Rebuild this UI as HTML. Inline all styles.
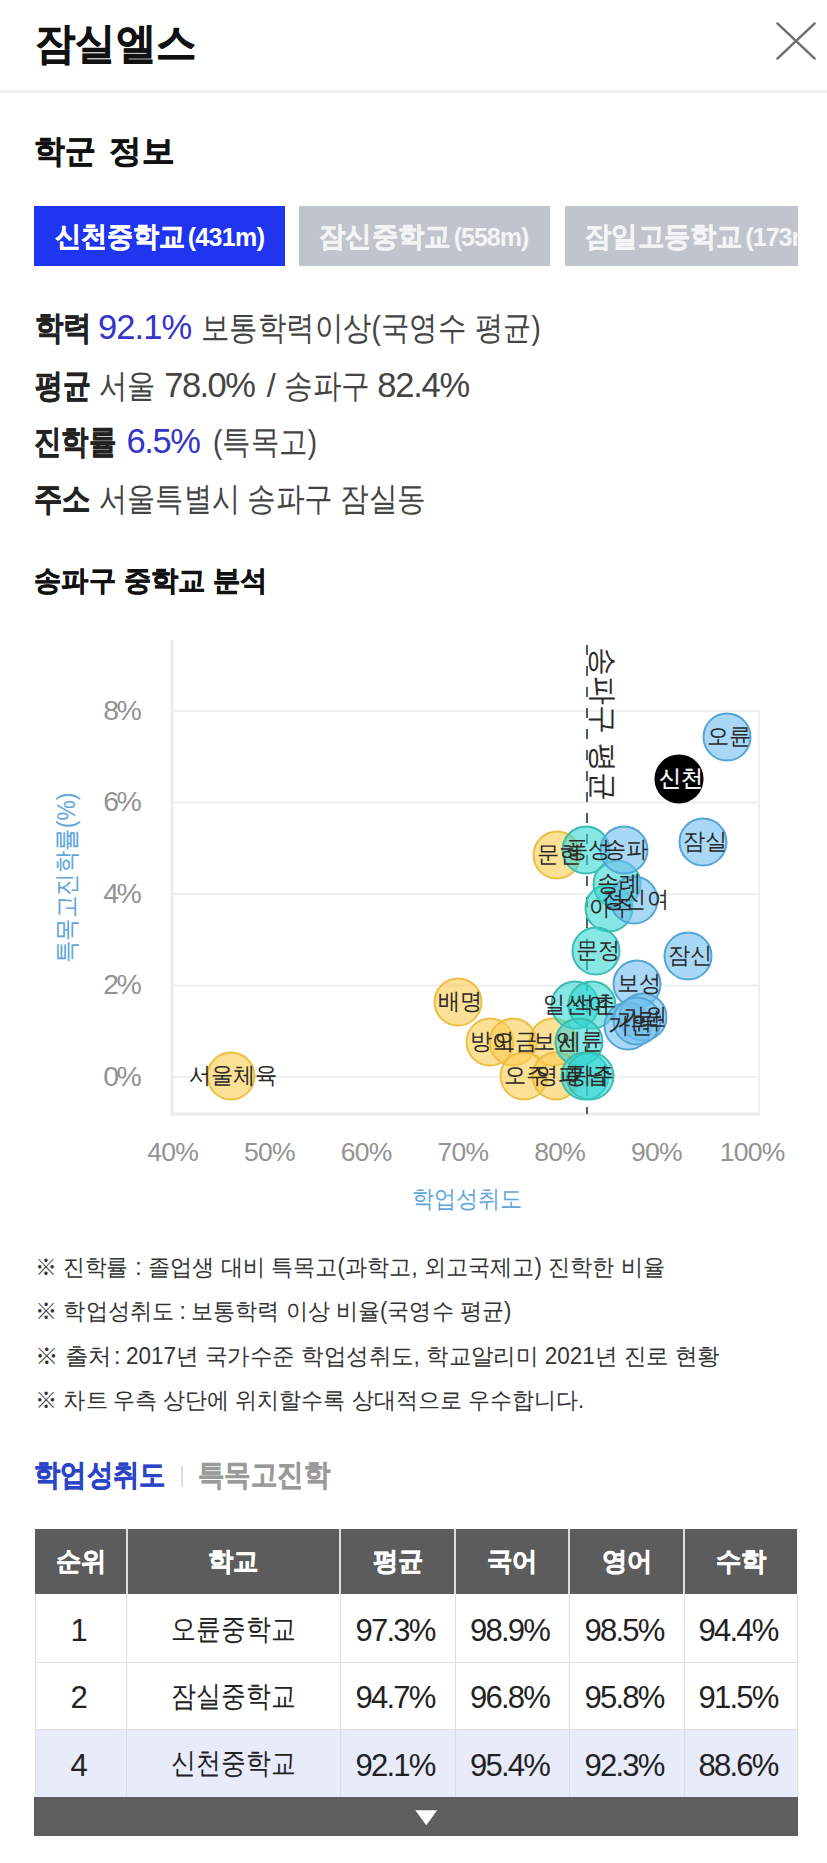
<!DOCTYPE html>
<html><head><meta charset="utf-8"><style>
*{margin:0;padding:0;box-sizing:border-box}
html,body{width:827px;height:1863px;overflow:hidden;background:#fff}
body{font-family:"Liberation Sans",sans-serif;color:#222;position:relative}
.a{position:absolute;white-space:nowrap}
</style></head><body>
<div id="title" class="a" style="left:34.64px;top:16.00px;line-height:54px;font-weight:bold;color:#111"><span id="title_0" style="font-size:42.91px;letter-spacing:0.00px;margin-left:0.00px;;display:inline-block;transform:scaleX(0.9396);transform-origin:0 50%;-webkit-text-stroke:0.5px currentColor;">잠실엘스</span></div>
<svg class="a" style="left:770px;top:16px" width="52" height="50" viewBox="0 0 52 50"><path d="M7.4 7.4L44.7 42.6M44.7 7.4L7.4 42.6" stroke="#6e6e6e" stroke-width="2.4" stroke-linecap="round"/></svg>
<div class="a" style="left:0;top:89.5px;width:827px;height:3px;background:#f0f0f0"></div>
<div id="h2" class="a" style="left:34.32px;top:129.20px;line-height:44px;font-weight:bold;color:#111"><span id="h2_0" style="font-size:31.65px;letter-spacing:0.00px;margin-left:0.00px;;display:inline-block;transform:scaleX(0.9643);transform-origin:0 50%;-webkit-text-stroke:0.5px currentColor;">학군</span><span id="h2_1" style="font-size:31.65px;letter-spacing:0.00px;margin-left:10.73px;;display:inline-block;transform:scaleX(1.0192);transform-origin:0 50%;-webkit-text-stroke:0.5px currentColor;">정보</span></div>
<div class="a" style="left:34px;top:206px;width:250.5px;height:60px;background:#2035ef"></div>
<div class="a" style="left:299px;top:206px;width:250.5px;height:60px;background:#c0c4cd"></div>
<div class="a" style="left:565px;top:206px;width:233px;height:60px;background:#c0c4cd"></div>
<div id="t1" class="a" style="left:54.68px;top:217.40px;line-height:40px;font-weight:bold;color:#fff"><span id="t1_0" style="font-size:27.79px;letter-spacing:0.00px;margin-left:0.00px;;display:inline-block;transform:scaleX(0.9321);transform-origin:0 50%;-webkit-text-stroke:0.5px currentColor;">신천중학교</span><span id="t1_1" style="font-size:25.00px;letter-spacing:-0.66px;margin-left:-7.01px;;">(431m)</span></div>
<div id="t2" class="a" style="left:318.68px;top:217.40px;line-height:40px;font-weight:bold;color:#f3f4f6"><span id="t2_0" style="font-size:28.00px;letter-spacing:0.00px;margin-left:0.00px;;display:inline-block;transform:scaleX(0.9404);transform-origin:0 50%;-webkit-text-stroke:0.5px currentColor;">잠신중학교</span><span id="t2_1" style="font-size:25.00px;letter-spacing:-0.98px;margin-left:-5.01px;;">(558m)</span></div>
<div class="a" style="left:0;top:0;width:798px;height:300px;overflow:hidden"><div id="t3" class="a" style="left:584.68px;top:217.40px;line-height:40px;font-weight:bold;color:#f3f4f6"><span id="t3_0" style="font-size:28.00px;letter-spacing:0.00px;margin-left:0.00px;;display:inline-block;transform:scaleX(0.9385);transform-origin:0 50%;-webkit-text-stroke:0.5px currentColor;">잠일고등학교</span><span id="t3_1" style="font-size:25.00px;letter-spacing:-1.00px;margin-left:-7.25px;;">(173m)</span></div></div>
<div id="r1" class="a" style="left:34.68px;top:307.00px;line-height:40px;color:#444"><span id="r1_0" style="font-size:32.50px;letter-spacing:0.00px;margin-left:0.00px;font-weight:bold;color:#222;display:inline-block;transform:scaleX(0.8621);transform-origin:0 50%;-webkit-text-stroke:0.5px currentColor;">학력</span><span id="r1_1" style="font-size:34.50px;letter-spacing:-0.90px;margin-left:-2.77px;color:#3535c8;">92.1%</span><span id="r1_2" style="font-size:32.50px;letter-spacing:0.00px;margin-left:9.93px;;display:inline-block;transform:scaleX(0.8615);transform-origin:0 50%;">보통학력이상(국영수</span><span id="r1_3" style="font-size:32.50px;letter-spacing:0.00px;margin-left:-34.29px;;display:inline-block;transform:scaleX(0.8549);transform-origin:0 50%;">평균)</span></div>
<div id="r2" class="a" style="left:35.00px;top:364.60px;line-height:40px;color:#444"><span id="r2_0" style="font-size:32.50px;letter-spacing:0.00px;margin-left:0.00px;font-weight:bold;color:#222;display:inline-block;transform:scaleX(0.8456);transform-origin:0 50%;-webkit-text-stroke:0.5px currentColor;">평균</span><span id="r2_1" style="font-size:32.50px;letter-spacing:0.00px;margin-left:-2.32px;;display:inline-block;transform:scaleX(0.8592);transform-origin:0 50%;">서울</span><span id="r2_2" style="font-size:34.50px;letter-spacing:-1.55px;margin-left:-0.45px;;">78.0%</span><span id="r2_3" style="font-size:32.50px;letter-spacing:0.00px;margin-left:12.49px;;">/</span><span id="r2_4" style="font-size:32.50px;letter-spacing:0.00px;margin-left:7.74px;;display:inline-block;transform:scaleX(0.8712);transform-origin:0 50%;">송파구</span><span id="r2_5" style="font-size:34.50px;letter-spacing:-1.25px;margin-left:-5.27px;;">82.4%</span></div>
<div id="r3" class="a" style="left:34.00px;top:421.20px;line-height:40px;color:#444"><span id="r3_0" style="font-size:32.50px;letter-spacing:0.00px;margin-left:0.00px;font-weight:bold;color:#222;display:inline-block;transform:scaleX(0.8313);transform-origin:0 50%;-webkit-text-stroke:0.5px currentColor;">진학률</span><span id="r3_1" style="font-size:34.50px;letter-spacing:-1.37px;margin-left:-6.64px;color:#3535c8;">6.5%</span><span id="r3_2" style="font-size:32.50px;letter-spacing:0.00px;margin-left:13.17px;;display:inline-block;transform:scaleX(0.8627);transform-origin:0 50%;">(특목고)</span></div>
<div id="r4" class="a" style="left:34.00px;top:479.20px;line-height:40px;color:#444"><span id="r4_0" style="font-size:32.50px;letter-spacing:0.00px;margin-left:0.00px;font-weight:bold;color:#222;display:inline-block;transform:scaleX(0.8591);transform-origin:0 50%;-webkit-text-stroke:0.5px currentColor;">주소</span><span id="r4_1" style="font-size:32.50px;letter-spacing:0.00px;margin-left:-1.40px;;display:inline-block;transform:scaleX(0.8537);transform-origin:0 50%;">서울특별시</span><span id="r4_2" style="font-size:32.50px;letter-spacing:0.00px;margin-left:-17.00px;;display:inline-block;transform:scaleX(0.8687);transform-origin:0 50%;">송파구</span><span id="r4_3" style="font-size:32.50px;letter-spacing:0.00px;margin-left:-5.92px;;display:inline-block;transform:scaleX(0.8687);transform-origin:0 50%;">잠실동</span></div>
<div id="h3" class="a" style="left:34.32px;top:559.80px;line-height:40px;font-weight:bold;color:#111"><span id="h3_0" style="font-size:28.40px;letter-spacing:0.00px;margin-left:0.00px;;display:inline-block;transform:scaleX(0.9749);transform-origin:0 50%;-webkit-text-stroke:0.5px currentColor;">송파구 중학교 분석</span></div>
<svg class="a" style="left:0;top:600px" width="827" height="620" viewBox="0 600 827 620"><line x1="172" y1="711" x2="759" y2="711" stroke="#f0f0f0" stroke-width="2"/>
<line x1="172" y1="802.5" x2="759" y2="802.5" stroke="#f0f0f0" stroke-width="2"/>
<line x1="172" y1="894" x2="759" y2="894" stroke="#f0f0f0" stroke-width="2"/>
<line x1="172" y1="985.5" x2="759" y2="985.5" stroke="#f0f0f0" stroke-width="2"/>
<line x1="172" y1="1077" x2="759" y2="1077" stroke="#f0f0f0" stroke-width="2"/>
<line x1="759" y1="710" x2="759" y2="1114" stroke="#f0f0f0" stroke-width="2"/>
<line x1="172" y1="640" x2="172" y2="1115.5" stroke="#ebebeb" stroke-width="3"/>
<line x1="170.5" y1="1114" x2="760" y2="1114" stroke="#ebebeb" stroke-width="3"/>
<line x1="587" y1="645" x2="587" y2="1114" stroke="#50606a" stroke-width="2" stroke-dasharray="10 11"/>
<circle cx="231" cy="1076" r="23.5" fill="rgba(250,204,80,0.6)" stroke="#eebf45" stroke-width="2"/>
<circle cx="458" cy="1002" r="23.5" fill="rgba(250,204,80,0.6)" stroke="#eebf45" stroke-width="2"/>
<circle cx="490" cy="1042" r="23.5" fill="rgba(250,204,80,0.6)" stroke="#eebf45" stroke-width="2"/>
<circle cx="513" cy="1042" r="23.5" fill="rgba(250,204,80,0.6)" stroke="#eebf45" stroke-width="2"/>
<circle cx="553" cy="1042" r="23.5" fill="rgba(250,204,80,0.6)" stroke="#eebf45" stroke-width="2"/>
<circle cx="524" cy="1076" r="23.5" fill="rgba(250,204,80,0.6)" stroke="#eebf45" stroke-width="2"/>
<circle cx="556" cy="1076" r="23.5" fill="rgba(250,204,80,0.6)" stroke="#eebf45" stroke-width="2"/>
<circle cx="557" cy="855" r="23.5" fill="rgba(250,204,80,0.6)" stroke="#eebf45" stroke-width="2"/>
<circle cx="586" cy="850" r="23.5" fill="rgba(48,214,210,0.58)" stroke="#3bbdb2" stroke-width="2"/>
<circle cx="617" cy="884" r="23.5" fill="rgba(48,214,210,0.58)" stroke="#3bbdb2" stroke-width="2"/>
<circle cx="609" cy="908" r="23.5" fill="rgba(48,214,210,0.58)" stroke="#3bbdb2" stroke-width="2"/>
<circle cx="596" cy="951" r="23.5" fill="rgba(48,214,210,0.58)" stroke="#3bbdb2" stroke-width="2"/>
<circle cx="575" cy="1005" r="23.5" fill="rgba(48,214,210,0.58)" stroke="#3bbdb2" stroke-width="2"/>
<circle cx="592" cy="1005" r="23.5" fill="rgba(48,214,210,0.58)" stroke="#3bbdb2" stroke-width="2"/>
<circle cx="579" cy="1042" r="23.5" fill="rgba(48,214,210,0.58)" stroke="#3bbdb2" stroke-width="2"/>
<circle cx="585" cy="1076" r="23.5" fill="rgba(48,214,210,0.58)" stroke="#3bbdb2" stroke-width="2"/>
<circle cx="590" cy="1076" r="23.5" fill="rgba(48,214,210,0.58)" stroke="#3bbdb2" stroke-width="2"/>
<circle cx="624" cy="850" r="23.5" fill="rgba(110,190,238,0.6)" stroke="#55a6d6" stroke-width="2"/>
<circle cx="634" cy="900" r="23.5" fill="rgba(110,190,238,0.6)" stroke="#55a6d6" stroke-width="2"/>
<circle cx="637" cy="984" r="23.5" fill="rgba(110,190,238,0.6)" stroke="#55a6d6" stroke-width="2"/>
<circle cx="628" cy="1026" r="23.5" fill="rgba(110,190,238,0.6)" stroke="#55a6d6" stroke-width="2"/>
<circle cx="643" cy="1017" r="23.5" fill="rgba(110,190,238,0.6)" stroke="#55a6d6" stroke-width="2"/>
<circle cx="637" cy="1021" r="23.5" fill="rgba(110,190,238,0.6)" stroke="#55a6d6" stroke-width="2"/>
<circle cx="688" cy="956" r="23.5" fill="rgba(110,190,238,0.6)" stroke="#55a6d6" stroke-width="2"/>
<circle cx="703" cy="842" r="23.5" fill="rgba(110,190,238,0.6)" stroke="#55a6d6" stroke-width="2"/>
<circle cx="727" cy="737" r="23.5" fill="rgba(110,190,238,0.6)" stroke="#55a6d6" stroke-width="2"/>
<circle cx="679" cy="779" r="23.5" fill="#000" stroke="#000" stroke-width="2"/></svg>
<div class="a" style="left:35.5px;width:104px;text-align:right;top:694.60px;line-height:30px;font-size:28.44px;letter-spacing:-2.40px;color:#939393">8%</div>
<div class="a" style="left:35.5px;width:104px;text-align:right;top:786.10px;line-height:30px;font-size:28.44px;letter-spacing:-2.40px;color:#939393">6%</div>
<div class="a" style="left:35.5px;width:104px;text-align:right;top:877.60px;line-height:30px;font-size:28.44px;letter-spacing:-2.40px;color:#939393">4%</div>
<div class="a" style="left:35.5px;width:104px;text-align:right;top:969.10px;line-height:30px;font-size:28.44px;letter-spacing:-2.40px;color:#939393">2%</div>
<div class="a" style="left:35.5px;width:104px;text-align:right;top:1060.60px;line-height:30px;font-size:28.44px;letter-spacing:-2.40px;color:#939393">0%</div>
<div class="a" style="left:112.30000000000001px;width:120px;text-align:center;top:1137.20px;line-height:30px;font-size:26.50px;letter-spacing:-0.73px;padding-left:0.73px;color:#939393">40%</div>
<div class="a" style="left:209.05px;width:120px;text-align:center;top:1137.20px;line-height:30px;font-size:26.50px;letter-spacing:-0.73px;padding-left:0.73px;color:#939393">50%</div>
<div class="a" style="left:305.8px;width:120px;text-align:center;top:1137.20px;line-height:30px;font-size:26.50px;letter-spacing:-0.73px;padding-left:0.73px;color:#939393">60%</div>
<div class="a" style="left:402.55px;width:120px;text-align:center;top:1137.20px;line-height:30px;font-size:26.50px;letter-spacing:-0.73px;padding-left:0.73px;color:#939393">70%</div>
<div class="a" style="left:499.29999999999995px;width:120px;text-align:center;top:1137.20px;line-height:30px;font-size:26.50px;letter-spacing:-0.73px;padding-left:0.73px;color:#939393">80%</div>
<div class="a" style="left:596.05px;width:120px;text-align:center;top:1137.20px;line-height:30px;font-size:26.50px;letter-spacing:-0.73px;padding-left:0.73px;color:#939393">90%</div>
<div class="a" style="left:691.8px;width:120px;text-align:center;top:1137.20px;line-height:30px;font-size:26.50px;letter-spacing:-0.73px;padding-left:0.73px;color:#939393">100%</div>
<div id="xat" class="a" style="left:412.32px;top:1184.20px;line-height:30px;color:#62a6dd"><span id="xat_0" style="font-size:23.66px;letter-spacing:0.00px;margin-left:0.00px;;display:inline-block;transform:scaleX(0.9206);transform-origin:0 50%;">학업성취도</span></div>
<div class="a" style="left:66px;top:878px;transform:translate(-50%,-50%) rotate(-90deg) scaleX(0.9017);line-height:34px;font-size:25.46px;color:#62a6dd">특목고진학률(%)</div>
<div class="a" style="left:172.55px;width:120.00px;text-align:center;top:1060.20px;line-height:30px;font-size:23.15px;color:#2a2a2a;"><span style="display:inline-block;transform:scaleX(0.9667);transform-origin:50% 50%;letter-spacing:0.00px;padding-left:0.00px">서울체육</span></div>
<div class="a" style="left:399.55px;width:120.00px;text-align:center;top:986.20px;line-height:30px;font-size:23.15px;color:#2a2a2a;"><span style="display:inline-block;transform:scaleX(0.9667);transform-origin:50% 50%;letter-spacing:0.00px;padding-left:0.00px">배명</span></div>
<div class="a" style="left:431.55px;width:120.00px;text-align:center;top:1026.20px;line-height:30px;font-size:23.15px;color:#2a2a2a;"><span style="display:inline-block;transform:scaleX(0.9667);transform-origin:50% 50%;letter-spacing:0.00px;padding-left:0.00px">방이</span></div>
<div class="a" style="left:454.55px;width:120.00px;text-align:center;top:1026.20px;line-height:30px;font-size:23.15px;color:#2a2a2a;"><span style="display:inline-block;transform:scaleX(0.9667);transform-origin:50% 50%;letter-spacing:0.00px;padding-left:0.00px">오금</span></div>
<div class="a" style="left:494.55px;width:120.00px;text-align:center;top:1026.20px;line-height:30px;font-size:23.15px;color:#2a2a2a;"><span style="display:inline-block;transform:scaleX(0.9667);transform-origin:50% 50%;letter-spacing:0.00px;padding-left:0.00px">보인</span></div>
<div class="a" style="left:465.55px;width:120.00px;text-align:center;top:1060.20px;line-height:30px;font-size:23.15px;color:#2a2a2a;"><span style="display:inline-block;transform:scaleX(0.9667);transform-origin:50% 50%;letter-spacing:0.00px;padding-left:0.00px">오주</span></div>
<div class="a" style="left:497.55px;width:120.00px;text-align:center;top:1060.20px;line-height:30px;font-size:23.15px;color:#2a2a2a;"><span style="display:inline-block;transform:scaleX(0.9667);transform-origin:50% 50%;letter-spacing:0.00px;padding-left:0.00px">영파</span></div>
<div class="a" style="left:498.55px;width:120.00px;text-align:center;top:839.20px;line-height:30px;font-size:23.15px;color:#2a2a2a;"><span style="display:inline-block;transform:scaleX(0.9667);transform-origin:50% 50%;letter-spacing:0.00px;padding-left:0.00px">문현</span></div>
<div class="a" style="left:527.55px;width:120.00px;text-align:center;top:834.20px;line-height:30px;font-size:23.15px;color:#2a2a2a;"><span style="display:inline-block;transform:scaleX(0.9667);transform-origin:50% 50%;letter-spacing:0.00px;padding-left:0.00px">풍성</span></div>
<div class="a" style="left:558.55px;width:120.00px;text-align:center;top:868.20px;line-height:30px;font-size:23.15px;color:#2a2a2a;"><span style="display:inline-block;transform:scaleX(0.9667);transform-origin:50% 50%;letter-spacing:0.00px;padding-left:0.00px">송례</span></div>
<div class="a" style="left:550.55px;width:120.00px;text-align:center;top:892.20px;line-height:30px;font-size:23.15px;color:#2a2a2a;"><span style="display:inline-block;transform:scaleX(0.9667);transform-origin:50% 50%;letter-spacing:0.00px;padding-left:0.00px">아주</span></div>
<div class="a" style="left:537.55px;width:120.00px;text-align:center;top:935.20px;line-height:30px;font-size:23.15px;color:#2a2a2a;"><span style="display:inline-block;transform:scaleX(0.9667);transform-origin:50% 50%;letter-spacing:0.00px;padding-left:0.00px">문정</span></div>
<div class="a" style="left:516.55px;width:120.00px;text-align:center;top:989.20px;line-height:30px;font-size:23.15px;color:#2a2a2a;"><span style="display:inline-block;transform:scaleX(0.9667);transform-origin:50% 50%;letter-spacing:0.00px;padding-left:0.00px">일신여</span></div>
<div class="a" style="left:533.55px;width:120.00px;text-align:center;top:989.20px;line-height:30px;font-size:23.15px;color:#2a2a2a;"><span style="display:inline-block;transform:scaleX(0.9667);transform-origin:50% 50%;letter-spacing:0.00px;padding-left:0.00px">석촌</span></div>
<div class="a" style="left:520.55px;width:120.00px;text-align:center;top:1026.20px;line-height:30px;font-size:23.15px;color:#2a2a2a;"><span style="display:inline-block;transform:scaleX(0.9667);transform-origin:50% 50%;letter-spacing:0.00px;padding-left:0.00px">세륜</span></div>
<div class="a" style="left:526.55px;width:120.00px;text-align:center;top:1060.20px;line-height:30px;font-size:23.15px;color:#2a2a2a;"><span style="display:inline-block;transform:scaleX(0.9667);transform-origin:50% 50%;letter-spacing:0.00px;padding-left:0.00px">풍납</span></div>
<div class="a" style="left:531.55px;width:120.00px;text-align:center;top:1060.20px;line-height:30px;font-size:23.15px;color:#2a2a2a;"><span style="display:inline-block;transform:scaleX(0.9667);transform-origin:50% 50%;letter-spacing:0.00px;padding-left:0.00px">가주</span></div>
<div class="a" style="left:565.55px;width:120.00px;text-align:center;top:834.20px;line-height:30px;font-size:23.15px;color:#2a2a2a;"><span style="display:inline-block;transform:scaleX(0.9667);transform-origin:50% 50%;letter-spacing:0.00px;padding-left:0.00px">송파</span></div>
<div class="a" style="left:575.55px;width:120.00px;text-align:center;top:884.20px;line-height:30px;font-size:23.15px;color:#2a2a2a;"><span style="display:inline-block;transform:scaleX(0.9667);transform-origin:50% 50%;letter-spacing:0.00px;padding-left:0.00px">정신여</span></div>
<div class="a" style="left:578.55px;width:120.00px;text-align:center;top:968.20px;line-height:30px;font-size:23.15px;color:#2a2a2a;"><span style="display:inline-block;transform:scaleX(0.9667);transform-origin:50% 50%;letter-spacing:0.00px;padding-left:0.00px">보성</span></div>
<div class="a" style="left:569.55px;width:120.00px;text-align:center;top:1010.20px;line-height:30px;font-size:23.15px;color:#2a2a2a;"><span style="display:inline-block;transform:scaleX(0.9667);transform-origin:50% 50%;letter-spacing:0.00px;padding-left:0.00px">가원</span></div>
<div class="a" style="left:584.55px;width:120.00px;text-align:center;top:1001.20px;line-height:30px;font-size:23.15px;color:#2a2a2a;"><span style="display:inline-block;transform:scaleX(0.9667);transform-origin:50% 50%;letter-spacing:0.00px;padding-left:0.00px">거원</span></div>
<div class="a" style="left:578.55px;width:120.00px;text-align:center;top:1005.20px;line-height:30px;font-size:23.15px;color:#2a2a2a;"><span style="display:inline-block;transform:scaleX(0.9667);transform-origin:50% 50%;letter-spacing:0.00px;padding-left:0.00px">가락</span></div>
<div class="a" style="left:629.55px;width:120.00px;text-align:center;top:940.20px;line-height:30px;font-size:23.15px;color:#2a2a2a;"><span style="display:inline-block;transform:scaleX(0.9667);transform-origin:50% 50%;letter-spacing:0.00px;padding-left:0.00px">잠신</span></div>
<div class="a" style="left:644.55px;width:120.00px;text-align:center;top:826.20px;line-height:30px;font-size:23.15px;color:#2a2a2a;"><span style="display:inline-block;transform:scaleX(0.9667);transform-origin:50% 50%;letter-spacing:0.00px;padding-left:0.00px">잠실</span></div>
<div class="a" style="left:668.55px;width:120.00px;text-align:center;top:721.20px;line-height:30px;font-size:23.15px;color:#2a2a2a;"><span style="display:inline-block;transform:scaleX(0.9667);transform-origin:50% 50%;letter-spacing:0.00px;padding-left:0.00px">오륜</span></div>
<div class="a" style="left:620.55px;width:120.00px;text-align:center;top:763.20px;line-height:30px;font-size:23.15px;color:#fff;-webkit-text-stroke:0.4px #fff;"><span style="display:inline-block;transform:scaleX(0.9667);transform-origin:50% 50%;letter-spacing:0.00px;padding-left:0.00px">신천</span></div>
<div class="a" style="left:603.3px;top:724.2px;transform:translate(-50%,-50%) rotate(90deg) scaleX(1.0022);line-height:34px;font-size:29.05px;color:#2a2a2a">송파구 평균</div>
<div id="n1" class="a" style="left:35.00px;top:1251.80px;line-height:30px;color:#333"><span id="n1_0" style="font-size:22.57px;letter-spacing:0.00px;margin-left:0.00px;;display:inline-block;transform:scaleX(0.9497);transform-origin:0 50%;">※ 진학률</span><span id="n1_1" style="font-size:23.00px;letter-spacing:0.00px;margin-left:2.00px;;">:</span><span id="n1_2" style="font-size:23.00px;letter-spacing:0.00px;margin-left:6.04px;;display:inline-block;transform:scaleX(0.9635);transform-origin:0 50%;">졸업생 대비 특목고(과학고, 외고국제고) 진학한 비율</span></div>
<div id="n2" class="a" style="left:35.00px;top:1296.20px;line-height:30px;color:#333"><span id="n2_0" style="font-size:23.00px;letter-spacing:0.00px;margin-left:0.00px;;display:inline-block;transform:scaleX(0.9649);transform-origin:0 50%;">※ 학업성취도</span><span id="n2_1" style="font-size:23.00px;letter-spacing:0.00px;margin-left:0.00px;;">:</span><span id="n2_2" style="font-size:23.00px;letter-spacing:0.00px;margin-left:4.96px;;display:inline-block;transform:scaleX(0.9605);transform-origin:0 50%;">보통학력 이상 비율(국영수 평균)</span></div>
<div id="n3" class="a" style="left:35.00px;top:1340.60px;line-height:30px;color:#333"><span id="n3_0" style="font-size:23.00px;letter-spacing:0.00px;margin-left:0.00px;;display:inline-block;transform:scaleX(1.0207);transform-origin:0 50%;">※ 출처</span><span id="n3_1" style="font-size:23.00px;letter-spacing:0.00px;margin-left:3.52px;;">:</span><span id="n3_2" style="font-size:23.00px;letter-spacing:0.00px;margin-left:5.53px;;display:inline-block;transform:scaleX(0.9781);transform-origin:0 50%;">2017년 국가수준 학업성취도, 학교알리미 2021년 진로 현황</span></div>
<div id="n4" class="a" style="left:35.00px;top:1385.00px;line-height:30px;color:#333"><span id="n4_0" style="font-size:23.00px;letter-spacing:0.00px;margin-left:0.00px;;display:inline-block;transform:scaleX(0.9653);transform-origin:0 50%;">※ 차트</span><span id="n4_1" style="font-size:23.00px;letter-spacing:0.00px;margin-left:2.28px;;display:inline-block;transform:scaleX(0.9574);transform-origin:0 50%;">우측 상단에 위치할수록 상대적으로 우수합니다.</span></div>
<div id="st" class="a" style="left:33.64px;top:1455.20px;line-height:40px;font-weight:bold"><span id="st_0" style="font-size:29.66px;letter-spacing:0.00px;margin-left:0.00px;color:#2b45c8;display:inline-block;transform:scaleX(0.8779);transform-origin:0 50%;-webkit-text-stroke:0.5px currentColor;">학업성취도</span><span id="st_1" style="font-size:29.66px;letter-spacing:0.00px;margin-left:14.46px;color:#9a9a9a;display:inline-block;transform:scaleX(0.8801);transform-origin:0 50%;-webkit-text-stroke:0.5px currentColor;">특목고진학</span></div>
<div class="a" style="left:181px;top:1466px;width:2px;height:21px;background:#dedede"></div>
<div class="a" style="left:35px;top:1529px;width:762px;height:65px;background:#5c5c5c"></div>
<div class="a" style="left:35px;top:1729px;width:762px;height:68px;background:#e8ebfa"></div>
<div class="a" style="left:125.5px;top:1529px;width:2px;height:65px;background:rgba(255,255,255,0.8)"></div>
<div class="a" style="left:126.0px;top:1594px;width:1px;height:203px;background:#dedede"></div>
<div class="a" style="left:339px;top:1529px;width:2px;height:65px;background:rgba(255,255,255,0.8)"></div>
<div class="a" style="left:339.5px;top:1594px;width:1px;height:203px;background:#dedede"></div>
<div class="a" style="left:454px;top:1529px;width:2px;height:65px;background:rgba(255,255,255,0.8)"></div>
<div class="a" style="left:454.5px;top:1594px;width:1px;height:203px;background:#dedede"></div>
<div class="a" style="left:568px;top:1529px;width:2px;height:65px;background:rgba(255,255,255,0.8)"></div>
<div class="a" style="left:568.5px;top:1594px;width:1px;height:203px;background:#dedede"></div>
<div class="a" style="left:683px;top:1529px;width:2px;height:65px;background:rgba(255,255,255,0.8)"></div>
<div class="a" style="left:683.5px;top:1594px;width:1px;height:203px;background:#dedede"></div>
<div class="a" style="left:34.5px;top:1594px;width:1px;height:203px;background:#dedede"></div>
<div class="a" style="left:796.5px;top:1594px;width:1px;height:203px;background:#dedede"></div>
<div class="a" style="left:35px;top:1661.5px;width:762px;height:1px;background:#dedede"></div>
<div class="a" style="left:35px;top:1728.5px;width:762px;height:1px;background:#dedede"></div>
<div class="a" style="left:34px;top:1797px;width:764px;height:39px;background:#5e5e5e"></div>
<svg class="a" style="left:415px;top:1810px" width="23" height="16" viewBox="0 0 23 16"><path d="M0.3 0.3H22.2L11.25 15.2Z" fill="#fff"/></svg>
<div class="a" style="left:35.00px;width:91.50px;text-align:center;top:1543.20px;line-height:36px;font-size:26.00px;color:#fff;font-weight:bold;-webkit-text-stroke:0.5px #fff;"><span style="display:inline-block;transform:scaleX(0.9750);transform-origin:50% 50%;letter-spacing:0.00px;padding-left:0.00px">순위</span></div>
<div class="a" style="left:126.50px;width:213.50px;text-align:center;top:1543.20px;line-height:36px;font-size:26.00px;color:#fff;font-weight:bold;-webkit-text-stroke:0.5px #fff;"><span style="display:inline-block;transform:scaleX(0.9750);transform-origin:50% 50%;letter-spacing:0.00px;padding-left:0.00px">학교</span></div>
<div class="a" style="left:340.00px;width:115.00px;text-align:center;top:1543.20px;line-height:36px;font-size:26.00px;color:#fff;font-weight:bold;-webkit-text-stroke:0.5px #fff;"><span style="display:inline-block;transform:scaleX(0.9750);transform-origin:50% 50%;letter-spacing:0.00px;padding-left:0.00px">평균</span></div>
<div class="a" style="left:455.00px;width:114.00px;text-align:center;top:1543.20px;line-height:36px;font-size:26.00px;color:#fff;font-weight:bold;-webkit-text-stroke:0.5px #fff;"><span style="display:inline-block;transform:scaleX(0.9750);transform-origin:50% 50%;letter-spacing:0.00px;padding-left:0.00px">국어</span></div>
<div class="a" style="left:569.00px;width:115.00px;text-align:center;top:1543.20px;line-height:36px;font-size:26.00px;color:#fff;font-weight:bold;-webkit-text-stroke:0.5px #fff;"><span style="display:inline-block;transform:scaleX(0.9750);transform-origin:50% 50%;letter-spacing:0.00px;padding-left:0.00px">영어</span></div>
<div class="a" style="left:684.00px;width:113.00px;text-align:center;top:1543.20px;line-height:36px;font-size:26.00px;color:#fff;font-weight:bold;-webkit-text-stroke:0.5px #fff;"><span style="display:inline-block;transform:scaleX(0.9750);transform-origin:50% 50%;letter-spacing:0.00px;padding-left:0.00px">수학</span></div>
<div class="a" style="left:31.70px;width:91.50px;text-align:center;top:1613.00px;line-height:36px;font-size:31.04px;letter-spacing:-1.80px;padding-left:1.80px;color:#222;">1</div>
<div class="a" style="left:126.50px;width:213.50px;text-align:center;top:1610.60px;line-height:36px;font-size:28.90px;color:#222;"><span style="display:inline-block;transform:scaleX(0.8575);transform-origin:50% 50%;letter-spacing:0.00px;padding-left:0.00px">오륜중학교</span></div>
<div class="a" style="left:336.70px;width:115.00px;text-align:center;top:1613.00px;line-height:36px;font-size:31.04px;letter-spacing:-1.80px;padding-left:1.80px;color:#222;">97.3%</div>
<div class="a" style="left:451.70px;width:114.00px;text-align:center;top:1613.00px;line-height:36px;font-size:31.04px;letter-spacing:-1.80px;padding-left:1.80px;color:#222;">98.9%</div>
<div class="a" style="left:565.70px;width:115.00px;text-align:center;top:1613.00px;line-height:36px;font-size:31.04px;letter-spacing:-1.80px;padding-left:1.80px;color:#222;">98.5%</div>
<div class="a" style="left:680.70px;width:113.00px;text-align:center;top:1613.00px;line-height:36px;font-size:31.04px;letter-spacing:-1.80px;padding-left:1.80px;color:#222;">94.4%</div>
<div class="a" style="left:31.70px;width:91.50px;text-align:center;top:1680.30px;line-height:36px;font-size:31.04px;letter-spacing:-1.80px;padding-left:1.80px;color:#222;">2</div>
<div class="a" style="left:126.50px;width:213.50px;text-align:center;top:1677.90px;line-height:36px;font-size:28.90px;color:#222;"><span style="display:inline-block;transform:scaleX(0.8575);transform-origin:50% 50%;letter-spacing:0.00px;padding-left:0.00px">잠실중학교</span></div>
<div class="a" style="left:336.70px;width:115.00px;text-align:center;top:1680.30px;line-height:36px;font-size:31.04px;letter-spacing:-1.80px;padding-left:1.80px;color:#222;">94.7%</div>
<div class="a" style="left:451.70px;width:114.00px;text-align:center;top:1680.30px;line-height:36px;font-size:31.04px;letter-spacing:-1.80px;padding-left:1.80px;color:#222;">96.8%</div>
<div class="a" style="left:565.70px;width:115.00px;text-align:center;top:1680.30px;line-height:36px;font-size:31.04px;letter-spacing:-1.80px;padding-left:1.80px;color:#222;">95.8%</div>
<div class="a" style="left:680.70px;width:113.00px;text-align:center;top:1680.30px;line-height:36px;font-size:31.04px;letter-spacing:-1.80px;padding-left:1.80px;color:#222;">91.5%</div>
<div class="a" style="left:31.70px;width:91.50px;text-align:center;top:1747.60px;line-height:36px;font-size:31.04px;letter-spacing:-1.80px;padding-left:1.80px;color:#222;">4</div>
<div class="a" style="left:126.50px;width:213.50px;text-align:center;top:1745.20px;line-height:36px;font-size:28.90px;color:#222;"><span style="display:inline-block;transform:scaleX(0.8575);transform-origin:50% 50%;letter-spacing:0.00px;padding-left:0.00px">신천중학교</span></div>
<div class="a" style="left:336.70px;width:115.00px;text-align:center;top:1747.60px;line-height:36px;font-size:31.04px;letter-spacing:-1.80px;padding-left:1.80px;color:#222;">92.1%</div>
<div class="a" style="left:451.70px;width:114.00px;text-align:center;top:1747.60px;line-height:36px;font-size:31.04px;letter-spacing:-1.80px;padding-left:1.80px;color:#222;">95.4%</div>
<div class="a" style="left:565.70px;width:115.00px;text-align:center;top:1747.60px;line-height:36px;font-size:31.04px;letter-spacing:-1.80px;padding-left:1.80px;color:#222;">92.3%</div>
<div class="a" style="left:680.70px;width:113.00px;text-align:center;top:1747.60px;line-height:36px;font-size:31.04px;letter-spacing:-1.80px;padding-left:1.80px;color:#222;">88.6%</div>
</body></html>
